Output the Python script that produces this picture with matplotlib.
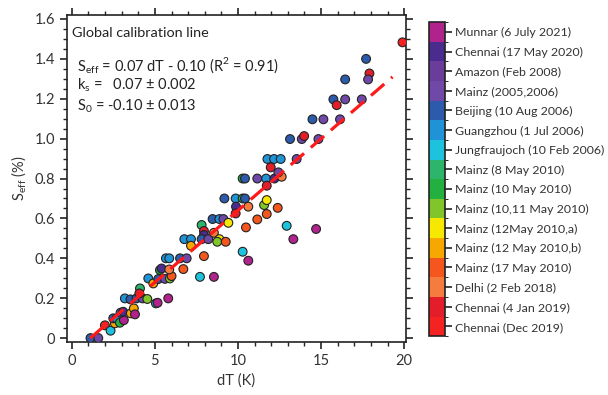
import matplotlib
matplotlib.use("Agg")
import matplotlib.pyplot as plt
import numpy as np
from matplotlib.colors import ListedColormap, BoundaryNorm
from matplotlib.ticker import MultipleLocator

plt.rcParams['font.family'] = ['Lato', 'DejaVu Sans']

# Categories (top to bottom as in the colour bar)
categories = ["Munnar (6 July 2021)", "Chennai (17 May 2020)", "Amazon (Feb 2008)",
              "Mainz (2005,2006)", "Beijing (10 Aug 2006)", "Guangzhou (1 Jul 2006)",
              "Jungfraujoch (10 Feb 2006)", "Mainz (8 May 2010)", "Mainz (10 May 2010)",
              "Mainz (10,11 May 2010)", "Mainz (12May 2010,a)", "Mainz (12 May 2010,b)",
              "Mainz (17 May 2010)", "Delhi (2 Feb 2018)", "Chennai (4 Jan 2019)",
              "Chennai (Dec 2019)"]
cat_keys = ["MU", "C20", "AM", "MZ", "BJ", "GZ", "JF", "M8", "M10", "M1011",
            "M12a", "M12b", "M17", "DL", "C19", "CD"]
cat_colors = ["#B0228C", "#4A2C8F", "#6A3D9A", "#7048A8", "#2B5BAA", "#1F93D6",
              "#1DC3DD", "#2DB56B", "#23B040", "#80C52A", "#F6E800", "#F6A800",
              "#F4561E", "#F57B3E", "#E31E2A", "#F52222"]

dT = [1.12, 1.59, 1.99, 2.33, 2.59, 2.49, 2.69, 2.89, 3.13, 2.93, 3.09, 3.55, 3.73, 3.80,
      3.19, 3.53, 3.89, 4.26, 4.10, 4.06, 4.54, 5.06, 5.16, 5.80, 4.60, 4.90, 5.20, 5.30,
      5.40, 5.60, 5.90, 6.00, 5.86, 5.66, 5.86, 6.51, 6.91, 6.71, 6.77, 7.17, 7.17, 7.71,
      8.55, 7.95, 7.81, 7.95, 7.95, 7.81, 8.21, 8.55, 8.88, 8.75, 9.26, 8.47, 8.88, 9.12,
      9.42, 9.18, 9.86, 10.28, 10.42, 9.88, 9.86, 10.62, 10.48, 11.16, 11.73, 11.57, 11.73,
      12.39, 10.28, 10.62, 12.93, 13.33, 14.70, 10.28, 10.42, 11.16, 11.69, 12.19, 11.73,
      12.63, 19.9, 17.71, 17.91, 17.83, 16.45, 15.74, 15.94, 16.45, 17.45, 14.48, 15.14,
      16.14, 13.13, 13.84, 13.98, 14.84, 11.77, 12.17, 12.57, 13.53, 11.97, 12.43]
seff = [0.00, 0.00, 0.064, 0.037, 0.074, 0.099, 0.099, 0.077, 0.09, 0.127, 0.132, 0.124,
        0.149, 0.119, 0.199, 0.194, 0.199, 0.199, 0.249, 0.224, 0.196, 0.174, 0.177, 0.199,
        0.299, 0.274, 0.296, 0.341, 0.349, 0.297, 0.299, 0.311, 0.344, 0.40, 0.40, 0.40,
        0.40, 0.346, 0.496, 0.496, 0.463, 0.307, 0.307, 0.411, 0.567, 0.537, 0.517, 0.496,
        0.496, 0.528, 0.496, 0.483, 0.483, 0.597, 0.597, 0.597, 0.578, 0.70, 0.70, 0.70,
        0.70, 0.659, 0.625, 0.659, 0.555, 0.595, 0.622, 0.667, 0.692, 0.653, 0.433, 0.388,
        0.563, 0.496, 0.547, 0.80, 0.80, 0.80, 0.80, 0.80, 0.764, 0.809, 1.483, 1.40, 1.327,
        1.297, 1.297, 1.197, 1.168, 1.197, 1.197, 1.097, 1.097, 1.097, 0.998, 0.998, 1.013,
        0.998, 0.898, 0.898, 0.898, 0.898, 0.856, 0.831]
cat = ["BJ", "MZ", "CD", "JF", "M12b", "BJ", "GZ", "M10", "MU", "BJ", "C20", "M12b",
       "M12b", "MU", "GZ", "BJ", "BJ", "MZ", "M8", "C19", "M1011", "JF", "MU", "MU",
       "GZ", "M12b", "BJ", "M10", "C20", "MZ", "M1011", "M17", "DL", "GZ", "GZ", "BJ",
       "MZ", "M17", "GZ", "GZ", "M12b", "JF", "MU", "M17", "M8", "C19", "C20", "BJ",
       "MZ", "DL", "M12a", "M1011", "M17", "BJ", "GZ", "MZ", "M12a", "BJ", "GZ", "M10",
       "BJ", "C20", "C19", "DL", "M17", "M17", "M17", "M1011", "M12a", "M17", "JF", "MU",
       "JF", "MU", "MU", "M10", "BJ", "MZ", "GZ", "C20", "C19", "DL", "CD", "BJ", "C19",
       "MZ", "BJ", "BJ", "C19", "MZ", "MZ", "BJ", "MZ", "MZ", "BJ", "MZ", "C19", "MZ",
       "GZ", "GZ", "GZ", "MZ", "C19", "MZ"]

# Fitted line as drawn
fit_slope = 0.072
fit_intercept = -0.08
fit_range = [1.1, 19.3]

fig = plt.figure(figsize=(6.08, 3.95), dpi=100)
ax = fig.add_axes([0.110, 0.134, 0.558, 0.828])

colors = [cat_colors[cat_keys.index(c)] for c in cat]
ax.scatter(dT, seff, s=40, c=colors, edgecolors='#222222', linewidths=0.8, zorder=3)

fx = np.array(fit_range)
ax.plot(fx, fit_slope * fx + fit_intercept, color='#FF1A1A', lw=2.3,
        linestyle=(0, (5.5, 2.8)), zorder=4)

ax.set_xlim(-0.3, 20.12)
ax.set_ylim(-0.02, 1.62)
ax.xaxis.set_major_locator(MultipleLocator(5))
ax.xaxis.set_minor_locator(MultipleLocator(1))
ax.yaxis.set_major_locator(MultipleLocator(0.2))
ax.yaxis.set_minor_locator(MultipleLocator(0.05))
ax.set_yticks([0, 0.2, 0.4, 0.6, 0.8, 1.0, 1.2, 1.4, 1.6])
ax.set_yticklabels(["0", "0.2", "0.4", "0.6", "0.8", "1.0", "1.2", "1.4", "1.6"])
ax.tick_params(which='both', direction='out', top=True, right=True, labelsize=10.5,
               colors='#222222', labelcolor='#333333')
ax.tick_params(which='major', length=5, width=1.2)
ax.tick_params(which='minor', length=3, width=1.0)
for sp in ax.spines.values():
    sp.set_linewidth(1.2)
    sp.set_color('#222222')

ax.set_xlabel("dT (K)", fontsize=10.5, color='#333333', labelpad=4)
ax.set_ylabel(r"S$_{\mathregular{eff}}$ (%)", fontsize=10.5, color='#333333', labelpad=4)

ax.text(0.015, 0.945, "Global calibration line", transform=ax.transAxes,
        fontsize=10.4, color='#222222', va='center', ha='left')
ax.text(0.03, 0.845, r"S$_{\mathregular{eff}}$ = 0.07 dT - 0.10 (R$^{\mathregular{2}}$ = 0.91)",
        transform=ax.transAxes, fontsize=10.5, color='#222222', va='center', ha='left')
ax.text(0.03, 0.785, r"k$_{\mathregular{s}}$ =   0.07 ± 0.002", transform=ax.transAxes,
        fontsize=10.5, color='#222222', va='center', ha='left')
ax.text(0.03, 0.722, r"S$_{\mathregular{0}}$ = -0.10 ± 0.013", transform=ax.transAxes,
        fontsize=10.5, color='#222222', va='center', ha='left')

# colour bar
cax = fig.add_axes([0.7056, 0.149, 0.027, 0.795])
n = len(categories)
cmap = ListedColormap(cat_colors[::-1])
norm = BoundaryNorm(np.arange(n + 1) - 0.5, n)
sm = matplotlib.cm.ScalarMappable(cmap=cmap, norm=norm)
cb = fig.colorbar(sm, cax=cax, ticks=np.arange(n))
cb.set_ticklabels(categories[::-1])
cb.ax.tick_params(labelsize=8.9, length=5, width=1.2, colors='#222222',
                  labelcolor='#333333', pad=2)
cb.outline.set_linewidth(1.2)
cb.outline.set_edgecolor('#222222')

fig.savefig("out.png", dpi=100)
